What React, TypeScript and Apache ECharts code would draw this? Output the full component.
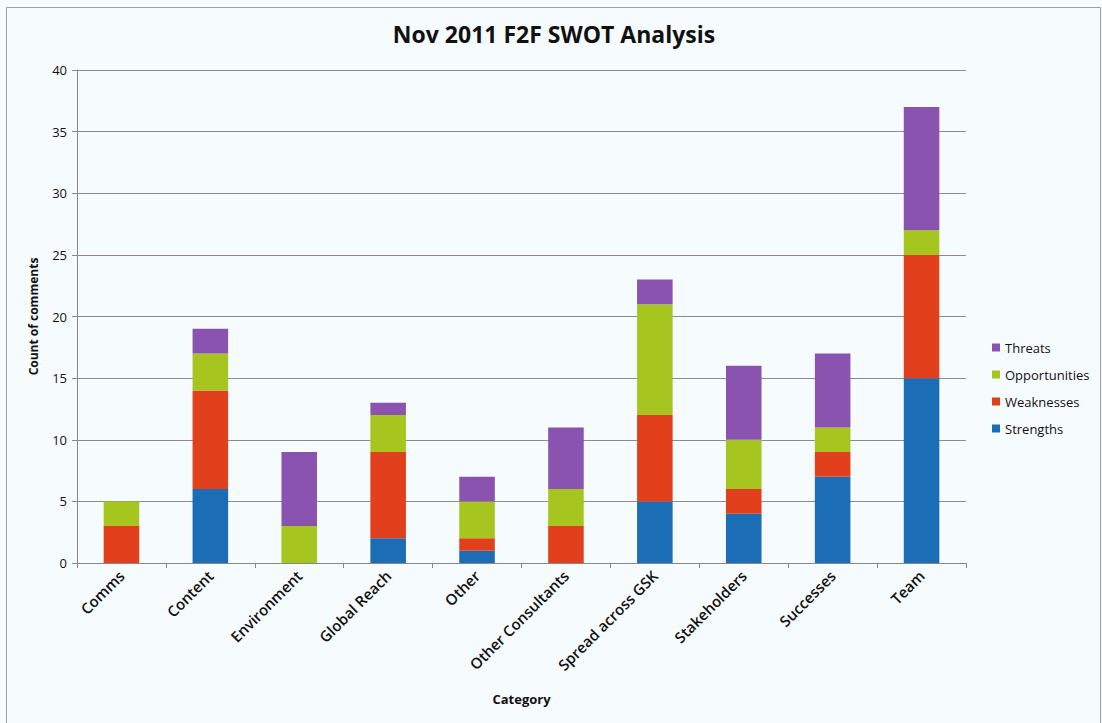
import React, { useEffect, useRef } from "react";
import * as echarts from "echarts";

const categories = ["Comms", "Content", "Environment", "Global Reach", "Other", "Other Consultants", "Spread across GSK", "Stakeholders", "Successes", "Team"];
const strengths = [0, 6, 0, 2, 1, 0, 5, 4, 7, 15];
const weaknesses = [3, 8, 0, 7, 1, 3, 7, 2, 2, 10];
const opportunities = [2, 3, 3, 3, 3, 3, 9, 4, 2, 2];
const threats = [0, 2, 6, 1, 2, 5, 2, 6, 6, 10];

const FONT = "'Open Sans', 'Noto Sans', sans-serif";

export default function App() {
  const ref = useRef<HTMLDivElement>(null);
  useEffect(() => {
    if (!ref.current) return;
    const chart = echarts.init(ref.current, null, { renderer: "svg" });
    const mk = (name: string, data: number[], color: string) => ({
      name,
      type: "bar",
      stack: "total",
      data,
      barWidth: "40%",
      itemStyle: { color },
    });
    chart.setOption({
      animation: false,
      backgroundColor: "#f6fbfd",
      textStyle: { fontFamily: FONT },
      title: {
        text: "Nov 2011 F2F SWOT Analysis",
        left: 549,
        textAlign: "center",
        top: 17,
        textStyle: { fontSize: 23, fontWeight: "bold", color: "#111", fontFamily: FONT },
      },
      graphic: [
        {
          type: "rect",
          shape: { x: 6.5, y: 7.5, width: 1094, height: 720 },
          style: { fill: "none", stroke: "#a0a0a0", lineWidth: 1 },
          silent: true,
        },
      ],
      legend: {
        orient: "vertical",
        left: 987,
        top: 336,
        itemWidth: 8,
        itemHeight: 8,
        itemGap: 14,
        icon: "rect",
        data: ["Threats", "Opportunities", "Weaknesses", "Strengths"],
        textStyle: { fontSize: 13, color: "#111", fontFamily: FONT },
      },
      grid: { left: 77, right: 136, top: 70, bottom: 160, containLabel: false },
      xAxis: {
        type: "category",
        data: categories,
        name: "Category",
        nameLocation: "middle",
        nameGap: 129,
        nameTextStyle: { fontSize: 13, fontWeight: "bold", color: "#111", fontFamily: FONT },
        axisLine: { lineStyle: { color: "#888" } },
        axisTick: { show: true, length: 5, lineStyle: { color: "#888" } },
        axisLabel: { rotate: 45, fontSize: 15, fontWeight: 600, color: "#111", margin: 10, interval: 0, fontFamily: FONT },
      },
      yAxis: {
        type: "value",
        min: 0,
        max: 40,
        interval: 5,
        name: "Count of comments",
        nameLocation: "middle",
        nameGap: 38,
        nameTextStyle: { fontSize: 12, fontWeight: "bold", color: "#111", fontFamily: FONT },
        axisLine: { show: true, lineStyle: { color: "#888" } },
        axisTick: { show: true, length: 5, lineStyle: { color: "#888" } },
        axisLabel: { fontSize: 13, color: "#111", margin: 10, fontFamily: FONT },
        splitLine: { lineStyle: { color: "#8c8c8c", width: 1 } },
      },
      series: [
        mk("Strengths", strengths, "#1b6db6"),
        mk("Weaknesses", weaknesses, "#e2401d"),
        mk("Opportunities", opportunities, "#a6c51f"),
        mk("Threats", threats, "#8a53b0"),
      ],
    });
    return () => chart.dispose();
  }, []);
  return <div ref={ref} style={{ position: "absolute", left: 0, top: 0, width: 1102, height: 723 }} />;
}
